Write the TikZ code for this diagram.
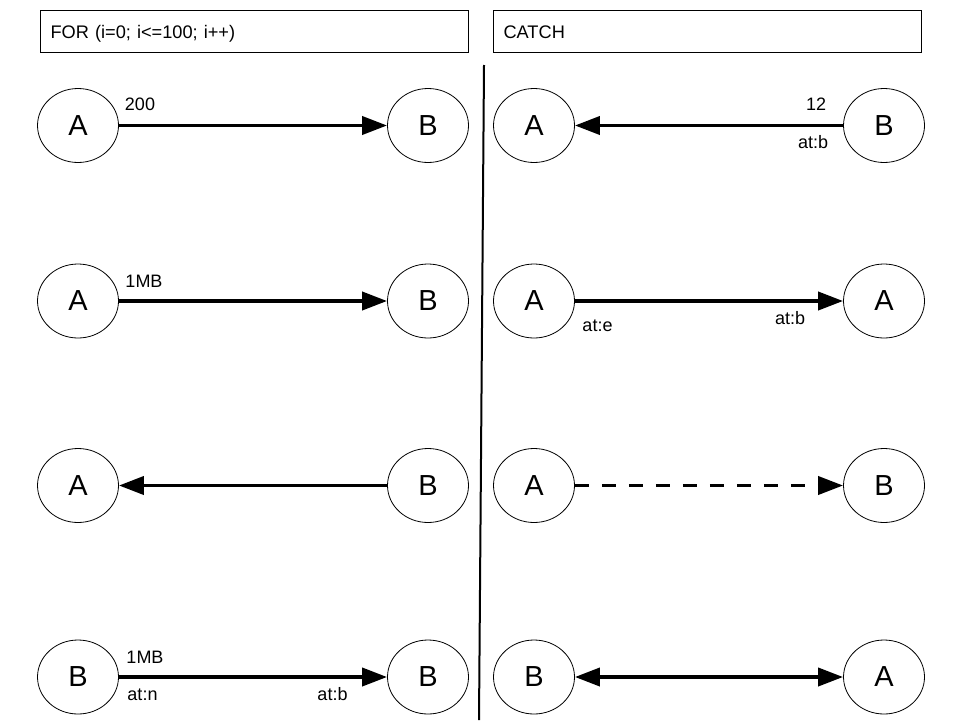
\documentclass[tikz,border=0pt]{standalone}
\usepackage{fontspec}
\setmainfont{Liberation Sans}
\usetikzlibrary{shapes.geometric,arrows.meta}
\begin{document}
\begin{tikzpicture}[x=1pt,y=-1pt,
  hdr/.style={draw, line width=1.1pt, minimum width=428pt, minimum height=42pt, text width=408pt, text height=16pt, text depth=2pt, align=left, inner xsep=10pt, inner ysep=0pt, anchor=north west, font=\fontsize{18.2}{21}\selectfont},
  st/.style={draw, ellipse, line width=0.8pt, minimum width=81pt, minimum height=74pt, inner sep=0pt, font=\fontsize{29}{32}\selectfont},
  lbl/.style={font=\fontsize{18}{21}\selectfont, inner sep=0pt},
  ar/.style={line width=3.8pt, -{Triangle[length=25pt,width=18pt]}},
  arb/.style={line width=3.8pt, {Triangle[length=25pt,width=18pt]}-{Triangle[length=25pt,width=18pt]}},
  ]
\useasboundingbox (0,0) rectangle (960,720);
\fill[white] (0,0) rectangle (960,720);
% headers
\node[hdr] (h1) at (40,10) {FOR (i=0; i<=100; i++)};
\node[hdr] (h2) at (493,10) {CATCH};
% divider
\coordinate (d1) at (484,65);
\coordinate (d2) at (479,720);
\draw[line width=2pt] (d1) -- (d2);
% left column
\node[st] (l1a) at (78,125.5) {A};
\node[st] (l1b) at (428,125.5) {B};
\node[st] (l2a) at (78,301) {A};
\node[st] (l2b) at (428,301) {B};
\node[st] (l3a) at (78,485.5) {A};
\node[st] (l3b) at (428,485.5) {B};
\node[st] (l4a) at (78,677) {B};
\node[st] (l4b) at (428,677) {B};
% right column
\node[st] (r1a) at (534,125.5) {A};
\node[st] (r1b) at (884,125.5) {B};
\node[st] (r2a) at (534,301) {A};
\node[st] (r2b) at (884,301) {A};
\node[st] (r3a) at (534,485.5) {A};
\node[st] (r3b) at (884,485.5) {B};
\node[st] (r4a) at (534,677) {B};
\node[st] (r4b) at (884,677) {A};
% connectors
\draw[ar] (l1a) -- (l1b);
\draw[ar] (l2a) -- (l2b);
\draw[ar] (l3b) -- (l3a);
\draw[ar] (l4a) -- (l4b);
\draw[ar] (r1b) -- (r1a);
\draw[ar] (r2a) -- (r2b);
\draw[ar, dash pattern=on 14pt off 13pt] (r3a) -- (r3b);
\draw[arb] (r4a) -- (r4b);
% labels
\node[lbl] (t1) at (140,104) {200};
\node[lbl] (t2) at (144,281) {1MB};
\node[lbl] (t3) at (145,657.5) {1MB};
\node[lbl] (t4) at (142.5,694.5) {at:n};
\node[lbl] (t5) at (332.5,694.5) {at:b};
\node[lbl] (t6) at (816,104.5) {12};
\node[lbl] (t7) at (813,142) {at:b};
\node[lbl] (t8) at (597.5,325.5) {at:e};
\node[lbl] (t9) at (790,318.5) {at:b};
\end{tikzpicture}
\end{document}
